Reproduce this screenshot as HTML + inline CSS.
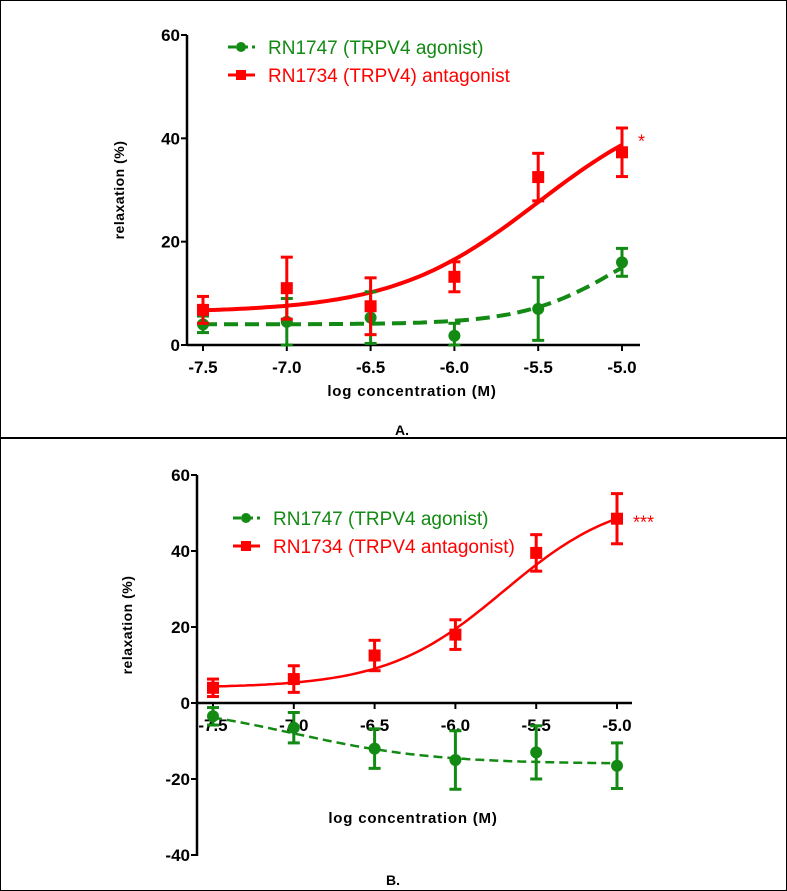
<!DOCTYPE html>
<html><head><meta charset="utf-8"><style>
body{margin:0;background:#fff;}
svg{display:block;font-family:"Liberation Sans",Arial,sans-serif;}
</style></head><body>
<svg width="787" height="891" viewBox="0 0 787 891">
<rect x="0.5" y="0.5" width="786" height="437" fill="none" stroke="#000"/>
<rect x="0.5" y="438.5" width="786" height="452" fill="none" stroke="#000"/>
<g id="pa"></g>
<g id="pb"></g>
</svg>
<script>
const xCats=[-7.5,-7.0,-6.5,-6.0,-5.5,-5.0];
const xTickLabels=["-7.5","-7.0","-6.5","-6.0","-5.5","-5.0"];
// Panel A
const aRed=[6.8,11,7.5,13.2,32.5,37.3];
const aRedErr=[2.6,6,5.5,2.9,4.6,4.7];
const aGreen=[4.0,4.5,5.3,1.8,7.0,16.0];
const aGreenErr=[1.6,4.5,5.0,2.4,6.1,2.7];
const aRedFit=[6.3,49,-5.5,1];
const aGreenFit=[4,26,-5,1.5];
const aYTicks=[0,20,40,60];
// Panel B
const bRed=[4.0,6.3,12.5,18.0,39.5,48.5];
const bRedErr=[2.3,3.5,4.0,3.9,4.8,6.6];
const bGreen=[-3.5,-6.5,-12,-15,-13,-16.5];
const bGreenErr=[2.3,4.0,5.2,7.7,7.0,6.0];
const bRedFit=[4,55,-5.7,1.2];
const bGreenFit=[0,-16,-7,1];
const bYTicks=[-40,-20,0,20,40,60];

const NS="http://www.w3.org/2000/svg";
function mk(p,t,a,txt){const e=document.createElementNS(NS,t);for(const k in a)e.setAttribute(k,a[k]);if(txt!==undefined)e.textContent=txt;p.appendChild(e);return e;}
function hill(f,x){return f[0]+(f[1]-f[0])/(1+Math.pow(10,(f[2]-x)*f[3]));}

function panel(g,o){
  const sx=v=>o.x0+(v-(-7.5))/2.5*(o.x1-o.x0);
  const sy=v=>o.y0-(v)*(o.y0-o.yTop)/60;
  let e=mk(g,'line',{x1:o.ax,y1:sy(60),x2:o.ax,y2:sy(o.yMin)+1,stroke:'#000','stroke-width':2.5});
  
  e=mk(g,'line',{x1:o.ax,y1:o.y0,x2:o.xEnd,y2:o.y0,stroke:'#000','stroke-width':2.5});
  
  o.yt.forEach(v=>{
    mk(g,'line',{x1:o.ax-6,y1:sy(v),x2:o.ax,y2:sy(v),stroke:'#000','stroke-width':2});
    const t=mk(g,'text',{x:o.ax-7,y:sy(v)+6,'text-anchor':'end','font-size':17,'font-weight':'bold'},String(v));
    
  });
  xCats.forEach((v,i)=>{
    mk(g,'line',{x1:sx(v),y1:o.y0,x2:sx(v),y2:o.y0+6,stroke:'#000','stroke-width':2});
    const t=mk(g,'text',{x:sx(v),y:o.y0+28,'text-anchor':'middle','font-size':17,'font-weight':'bold'},xTickLabels[i]);
    
  });
  function curve(f,col,dash,w,name){
    let d='';for(let k=0;k<=100;k++){const x=-7.5+2.5*k/100;d+=(k?'L':'M')+sx(x).toFixed(1)+','+sy(hill(f,x)).toFixed(1);}
    const p=mk(g,'path',{d:d,fill:'none',stroke:col,'stroke-width':w,'stroke-dasharray':dash||'none'});
    
  }
  function pts(vals,errs,col,sq,name){
    vals.forEach((v,i)=>{
      const x=sx(xCats[i]);
      const lo=Math.max(v-errs[i],o.clip0?0:-999);
      mk(g,'line',{x1:x,y1:sy(v+errs[i]),x2:x,y2:sy(lo),stroke:col,'stroke-width':3});
      mk(g,'line',{x1:x-6,y1:sy(v+errs[i]),x2:x+6,y2:sy(v+errs[i]),stroke:col,'stroke-width':3});
      mk(g,'line',{x1:x-6,y1:sy(lo),x2:x+6,y2:sy(lo),stroke:col,'stroke-width':3});
      let m;
      if(sq)m=mk(g,'rect',{x:x-6,y:sy(v)-6,width:12,height:12,fill:col});
      else m=mk(g,'circle',{cx:x,cy:sy(v),r:6,fill:col});
      
    });
  }
  curve(o.gf,'#138a13',o.dash,o.w,'agonist-fit-curve');
  curve(o.rf,'#ff0000',null,o.w,'antagonist-fit-curve');
  pts(o.g,o.ge,'#138a13',false,'agonist-point');
  pts(o.r,o.re,'#ff0000',true,'antagonist-point');
  mk(g,'line',{x1:o.lx,y1:o.ly1,x2:o.lx+27,y2:o.ly1,stroke:'#138a13','stroke-width':3,'stroke-dasharray':'8,4'});
  mk(g,'circle',{cx:o.lx+13,cy:o.ly1,r:5,fill:'#138a13'});
  let t=mk(g,'text',{x:o.lx+40,y:o.ly1+7,'font-size':19,fill:'#138a13'},o.l1);
  
  mk(g,'line',{x1:o.lx,y1:o.ly2,x2:o.lx+27,y2:o.ly2,stroke:'#ff0000','stroke-width':3});
  mk(g,'rect',{x:o.lx+8,y:o.ly2-5,width:10,height:10,fill:'#ff0000'});
  t=mk(g,'text',{x:o.lx+40,y:o.ly2+7,'font-size':19,fill:'#ff0000'},o.l2);
  
  t=mk(g,'text',{x:sx(-5)+16,y:sy(o.r[5])+o.sty,'font-size':18,fill:'#ff0000'},o.star);
  
  t=mk(g,'text',{x:o.ytx,y:o.yty,'text-anchor':'middle','font-size':14,'font-weight':'bold','letter-spacing':'0.5',transform:`rotate(-90 ${o.ytx} ${o.yty})`},'relaxation (%)');
  
  t=mk(g,'text',{x:o.xtx,y:o.xty,'text-anchor':'middle','font-size':15,'font-weight':'bold','letter-spacing':'0.8'},'log concentration (M)');
  
  t=mk(g,'text',{x:o.lbx,y:o.lby,'text-anchor':'middle','font-size':14,'font-weight':'bold'},o.lab);
  
}
panel(document.getElementById('pa'),{x0:203,x1:622,yTop:35,y0:345,yMin:0,ax:187,xEnd:640,yt:aYTicks,
 r:aRed,re:aRedErr,g:aGreen,ge:aGreenErr,rf:aRedFit,gf:aGreenFit,w:4,clip0:true,dash:'14,7',
 lx:228,ly1:47,ly2:75,l1:'RN1747 (TRPV4 agonist)',l2:'RN1734 (TRPV4) antagonist',star:'*',sty:-5,
 ytx:124,yty:190,xtx:412,xty:396,lbx:402,lby:435,lab:'A.'});
panel(document.getElementById('pb'),{x0:213,x1:617,yTop:475,y0:703,yMin:-40,ax:197,xEnd:632,yt:bYTicks,
 r:bRed,re:bRedErr,g:bGreen,ge:bGreenErr,rf:bRedFit,gf:bGreenFit,w:2.5,clip0:false,dash:'9,5',
 lx:233,ly1:518,ly2:546,l1:'RN1747 (TRPV4 agonist)',l2:'RN1734 (TRPV4 antagonist)',star:'***',sty:10,
 ytx:132,yty:625,xtx:413,xty:823,lbx:393,lby:885,lab:'B.'});
</script>
</body></html>
